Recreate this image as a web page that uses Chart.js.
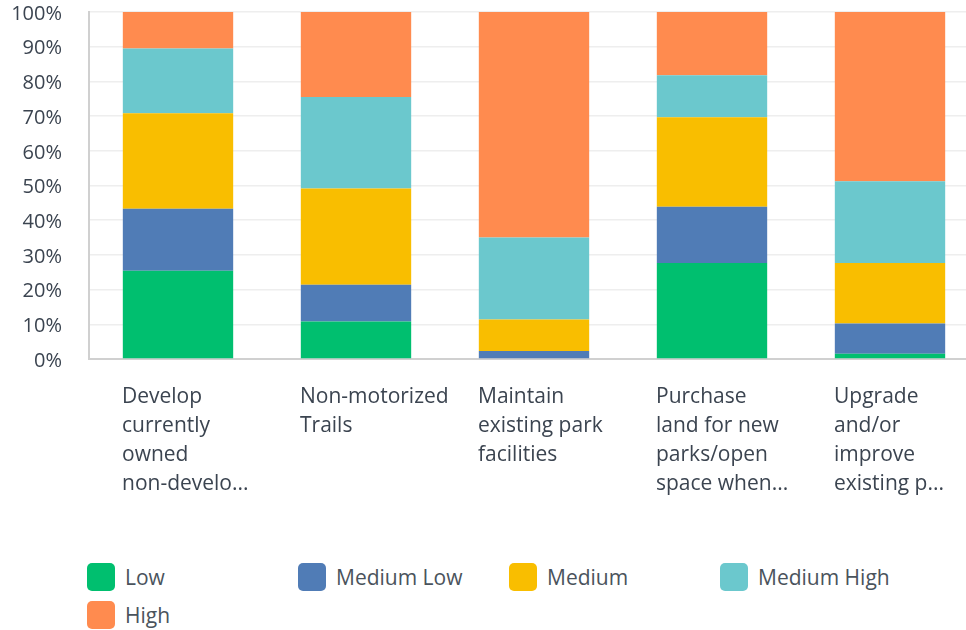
<!DOCTYPE html>
<html>
<head>
<meta charset="utf-8">
<script src="https://cdn.jsdelivr.net/npm/chart.js@4/dist/chart.umd.min.js"></script>
<style>
  body { margin: 0; background: #fff; overflow: hidden; font-family: "Open Sans", sans-serif; }
  #wrap { position: absolute; left: 0; top: 0; width: 980px; height: 530px; }
  #legend { position: absolute; left: 87px; top: 563px; display: grid;
            grid-template-columns: repeat(4, 211px); row-gap: 10px; }
  .item { display: flex; align-items: center; height: 28px; font-size: 21px; color: #4a535c; }
  .box { width: 28px; height: 28px; border-radius: 5px; margin-right: 10px; }
</style>
</head>
<body>
<div id="wrap"><canvas id="chart"></canvas></div>
<div id="legend"></div>
<script>
// Kategorien (mehrzeilig wie im Original)
const categories = [
    ['Develop', 'currently', 'owned', 'non-develo...'],
    ['Non-motorized', 'Trails'],
    ['Maintain', 'existing park', 'facilities'],
    ['Purchase', 'land for new', 'parks/open', 'space when...'],
    ['Upgrade', 'and/or', 'improve', 'existing p...']
];

// Anteile in Prozent
const low        = [25.4, 10.8, 0.0, 27.7, 1.5];
const mediumLow  = [17.9, 10.6, 2.3, 16.2, 8.7];
const medium     = [27.5, 27.7, 9.1, 25.8, 17.5];
const mediumHigh = [18.7, 26.4, 23.6, 12.1, 23.5];
const high       = [10.5, 24.5, 65.0, 18.2, 48.8];

const seriesNames = ['Low', 'Medium Low', 'Medium', 'Medium High', 'High'];
const yTicks = [0, 10, 20, 30, 40, 50, 60, 70, 80, 90, 100];

const colors = ['#00bf6f', '#507cb6', '#f9be00', '#6bc8cd', '#ff8b4f'];
const textColor = '#3b4450';

// feste Achsengroessen, keine automatische Randpolsterung
function fixScale(size, key) {
    return s => {
        s[key] = size;
        s.paddingTop = s.paddingBottom = s.paddingLeft = s.paddingRight = 0;
    };
}

const ctx = document.getElementById('chart').getContext('2d');
const chart = new Chart(ctx, {
    type: 'bar',
    data: {
        labels: categories,
        datasets: [low, mediumLow, medium, mediumHigh, high].map((d, i) => ({
            label: seriesNames[i],
            data: d,
            backgroundColor: colors[i],
            borderWidth: 0,
            categoryPercentage: 1,
            barPercentage: 0.62
        }))
    },
    options: {
        responsive: true,
        maintainAspectRatio: false,
        animation: false,
        layout: { autoPadding: false, padding: { top: 12, right: 1, left: 0, bottom: 0 } },
        plugins: {
            legend: { display: false },
            tooltip: { enabled: false }
        },
        scales: {
            x: {
                stacked: true,
                grid: { display: true, color: 'transparent', drawTicks: false },
                border: { display: true, color: '#d0d0d0', width: 2 },
                ticks: {
                    align: 'start',
                    labelOffset: -56,
                    padding: 24,
                    color: textColor,
                    font: { family: 'Open Sans', size: 21, lineHeight: 1.38 }
                },
                afterFit: fixScale(171, 'height')
            },
            y: {
                stacked: true,
                min: 0,
                max: 100,
                afterBuildTicks: s => { s.ticks = yTicks.map(v => ({ value: v })); },
                grid: { color: '#eeeeee', lineWidth: 1.5, drawTicks: false },
                border: { display: true, color: '#d0d0d0', width: 2 },
                ticks: {
                    padding: 27,
                    labelOffset: 2,
                    color: textColor,
                    font: { family: 'Open Sans', size: 20 },
                    callback: v => v + '%'
                },
                afterFit: fixScale(89, 'width')
            }
        }
    }
});

// HTML-Legende in festen Spalten
const legend = document.getElementById('legend');
chart.data.datasets.forEach(ds => {
    const item = document.createElement('div');
    item.className = 'item';
    const box = document.createElement('span');
    box.className = 'box';
    box.style.background = ds.backgroundColor;
    const txt = document.createElement('span');
    txt.textContent = ds.label;
    item.appendChild(box);
    item.appendChild(txt);
    legend.appendChild(item);
});
</script>
</body>
</html>
